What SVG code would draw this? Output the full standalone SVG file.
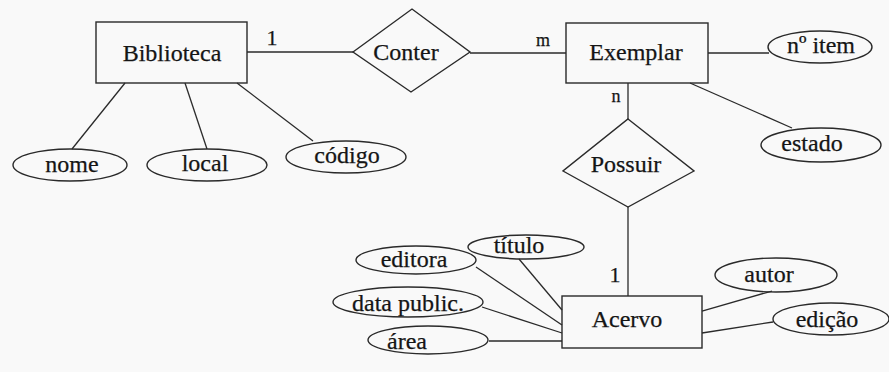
<svg xmlns="http://www.w3.org/2000/svg" width="889" height="372" viewBox="0 0 889 372">
<style>
.sh{fill:none;stroke:#2a2a2a;stroke-width:1.4}
.ln{fill:none;stroke:#2a2a2a;stroke-width:1.3}
text{font-family:"Liberation Serif","Times New Roman",serif;fill:#151515;text-anchor:middle;stroke:#151515;stroke-width:0.25}
.t{font-size:24px}
.c{font-size:18px}
.c1{font-size:22px}
</style>
<rect width="889" height="372" fill="#f9f9f9"/>
<g id="connectors">
<line class="ln" x1="247" y1="52" x2="353" y2="52"/>
<line class="ln" x1="470" y1="53" x2="566" y2="53"/>
<line class="ln" x1="628" y1="83" x2="628" y2="119"/>
<line class="ln" x1="628" y1="207" x2="628" y2="296"/>
<line class="ln" x1="125" y1="83" x2="72" y2="149"/>
<line class="ln" x1="185" y1="83" x2="207" y2="149"/>
<line class="ln" x1="237" y1="83" x2="313" y2="141"/>
<line class="ln" x1="708" y1="53" x2="769" y2="53"/>
<line class="ln" x1="690" y1="83" x2="792" y2="128"/>
<line class="ln" x1="519" y1="259" x2="562" y2="310"/>
<line class="ln" x1="476" y1="267" x2="562" y2="325"/>
<line class="ln" x1="482" y1="307" x2="562" y2="333"/>
<line class="ln" x1="489" y1="341" x2="562" y2="341"/>
<line class="ln" x1="772" y1="291" x2="702" y2="311"/>
<line class="ln" x1="773" y1="322" x2="702" y2="333"/>
<text class="c1" x="272" y="45">1</text>
<text class="c" x="543" y="46">m</text>
<text class="c" x="616" y="102">n</text>
<text class="c1" x="615" y="282">1</text>
</g>
<g id="biblioteca">
<rect class="sh" x="96" y="22" width="151" height="61"/>
<text class="t" x="172" y="61">Biblioteca</text>
</g>
<g id="conter">
<polygon class="sh" points="353,52 412,9 470,52 411,92"/>
<text class="t" x="406" y="60">Conter</text>
</g>
<g id="exemplar">
<rect class="sh" x="566" y="23" width="142" height="60"/>
<text class="t" x="636" y="60">Exemplar</text>
</g>
<g id="possuir">
<polygon class="sh" points="628,119 694,171 628,207 563,171"/>
<text class="t" x="626" y="172">Possuir</text>
</g>
<g id="acervo">
<rect class="sh" x="562" y="296" width="140" height="52"/>
<text class="t" x="627" y="327">Acervo</text>
</g>
<g id="nome">
<ellipse class="sh" cx="70" cy="165" rx="57" ry="16"/>
<text class="t" x="72" y="172">nome</text>
</g>
<g id="local">
<ellipse class="sh" cx="207" cy="165" rx="60" ry="16"/>
<text class="t" x="205" y="171">local</text>
</g>
<g id="codigo">
<ellipse class="sh" cx="346" cy="157" rx="60" ry="16"/>
<text class="t" x="347" y="163">código</text>
</g>
<g id="nitem">
<ellipse class="sh" cx="820" cy="47" rx="52" ry="16"/>
<text class="t" x="821" y="53">nº item</text>
</g>
<g id="estado">
<ellipse class="sh" cx="821" cy="145" rx="60" ry="17"/>
<text class="t" x="812" y="151">estado</text>
</g>
<g id="titulo">
<ellipse class="sh" cx="526" cy="247" rx="58" ry="12"/>
<text class="t" x="519" y="253">título</text>
</g>
<g id="editora">
<ellipse class="sh" cx="416" cy="260" rx="60" ry="14"/>
<text class="t" x="414" y="267">editora</text>
</g>
<g id="datapublic">
<ellipse class="sh" cx="408" cy="302" rx="75" ry="15"/>
<text class="t" x="408" y="311">data public.</text>
</g>
<g id="area">
<ellipse class="sh" cx="428" cy="340" rx="60" ry="14"/>
<text class="t" x="407" y="349">área</text>
</g>
<g id="autor">
<ellipse class="sh" cx="776" cy="275" rx="61" ry="17"/>
<text class="t" x="769" y="282">autor</text>
</g>
<g id="edicao">
<ellipse class="sh" cx="831" cy="319" rx="58" ry="16"/>
<text class="t" x="827" y="327">edição</text>
</g>
</svg>
